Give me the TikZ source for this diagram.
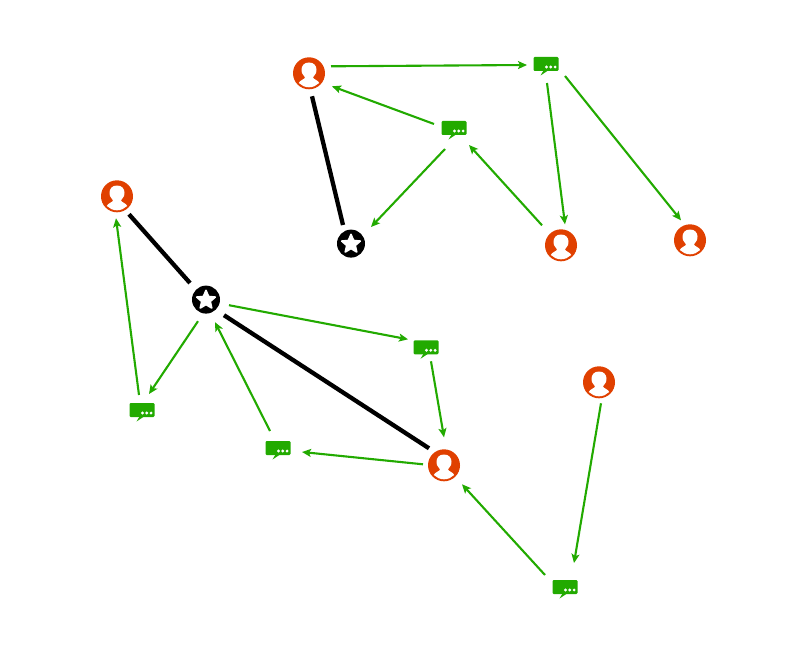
\documentclass[tikz,border=0pt]{standalone}
\usetikzlibrary{arrows.meta,calc}
\definecolor{userc}{HTML}{E04000}
\definecolor{msgc}{HTML}{22AA00}
\tikzset{
  usernode/.style={circle,fill=userc,minimum size=32pt,inner sep=0pt},
  starnode/.style={circle,fill=black,minimum size=28pt,inner sep=0pt},
  msgnode/.style={rectangle,fill=msgc,rounded corners=1.2pt,minimum width=25pt,minimum height=14pt,inner sep=0pt},
  flow/.style={draw=msgc,line width=2.1pt,-{Stealth[length=9pt,width=8pt,inset=2pt]}},
  tie/.style={draw=black,line width=4.3pt},
}
\newcommand{\usericon}[3]{%
  \node[usernode] (#1) at (#2,#3) {};
  \begin{scope}[shift={(#2,#3)}]
    \clip (0,0) circle (14);
    \fill[white] (0,-10.8) .. controls (-5,-10.8) and (-7.5,-7.5) .. (-7.5,-3.5)
      .. controls (-7.5,-1) and (-7,0.5) .. (-5.5,2)
      .. controls (-4.5,2.5) and (-4,3) .. (-4,4)
      .. controls (-4,6) and (-9,6.5) .. (-10.5,10) -- (-10.5,16) -- (10.5,16) -- (10.5,10)
      .. controls (9,6.5) and (4,6) .. (4,4)
      .. controls (4,3) and (4.5,2.5) .. (5.5,2)
      .. controls (7,0.5) and (7.5,-1) .. (7.5,-3.5)
      .. controls (7.5,-7.5) and (5,-10.8) .. (0,-10.8) -- cycle;
  \end{scope}}
\newcommand{\staricon}[3]{%
  \node[starnode] (#1) at (#2,#3) {};
  \begin{scope}[shift={(#2,#3+0.5)}]
    \fill[white,draw=white,line width=1.6pt,line join=round]
      (90:-9.8) -- (54:-4.5) -- (18:-9.8) -- (-18:-4.5) -- (-54:-9.8) -- (-90:-4.5)
      -- (-126:-9.8) -- (-162:-4.5) -- (162:-9.8) -- (126:-4.5) -- cycle;
  \end{scope}}
\newcommand{\msgicon}[3]{%
  \node[msgnode] (#1) at (#2,#3) {};
  \begin{scope}[shift={(#2,#3)}]
    \fill[msgc] (-2.5,6.5) -- (-5.5,11.5) -- (2,6.5) -- cycle;
    \fill[white] (0.5,3) circle (1.6) (4.8,3) circle (1.6) (9.1,3) circle (1.6);
  \end{scope}}
\begin{document}
\begin{tikzpicture}[x=1pt,y=-1pt]
\useasboundingbox (0,0) rectangle (800,650);
\usericon{ua}{309}{73.3}
\usericon{ub}{117}{196.3}
\usericon{uc}{561}{245.3}
\usericon{ud}{690}{240.3}
\usericon{ue}{599}{382.3}
\usericon{uf}{444}{465.3}
\staricon{sa}{351}{243.6}
\staricon{sb}{206}{299.6}
\msgicon{ma}{546}{64}
\msgicon{mb}{454}{128}
\msgicon{mc}{426}{347.3}
\msgicon{md}{142}{410}
\msgicon{me}{278}{448}
\msgicon{mf}{565}{587}
\draw[tie] ($(ua)+(3,23)$) -- ($(sa)+(-8,-18.6)$);
\draw[tie] ($(ub)+(12,18)$) -- ($(sb)+(-16,-16.6)$);
\draw[tie] ($(sb)+(18,15.6)$) -- ($(uf)+(-15,-17)$);
\draw[flow] ($(ua)+(22,-7)$) -- ($(ma)+(-19,1)$);
\draw[flow] ($(mb)+(-20,-4)$) -- ($(ua)+(23,13)$);
\draw[flow] ($(ma)+(1,19)$) -- ($(uc)+(4,-21)$);
\draw[flow] ($(ma)+(19,12)$) -- ($(ud)+(-9,-20)$);
\draw[flow] ($(uc)+(-19,-20)$) -- ($(mb)+(15,17)$);
\draw[flow] ($(mb)+(-9,21)$) -- ($(sa)+(20,-16.6)$);
\draw[flow] ($(sb)+(23,5.6)$) -- ($(mc)+(-18,-8)$);
\draw[flow] ($(mc)+(5,14)$) -- ($(uf)+(0,-28)$);
\draw[flow] ($(uf)+(-21,-1)$) -- ($(me)+(24,4)$);
\draw[flow] ($(me)+(-8,-17)$) -- ($(sb)+(9,22.6)$);
\draw[flow] ($(sb)+(-8,21.6)$) -- ($(md)+(7,-16)$);
\draw[flow] ($(md)+(-3,-15)$) -- ($(ub)+(-1,22)$);
\draw[flow] ($(ue)+(2,21)$) -- ($(mf)+(9,-24)$);
\draw[flow] ($(mf)+(-20,-12)$) -- ($(uf)+(18,19)$);
\end{tikzpicture}
\end{document}
